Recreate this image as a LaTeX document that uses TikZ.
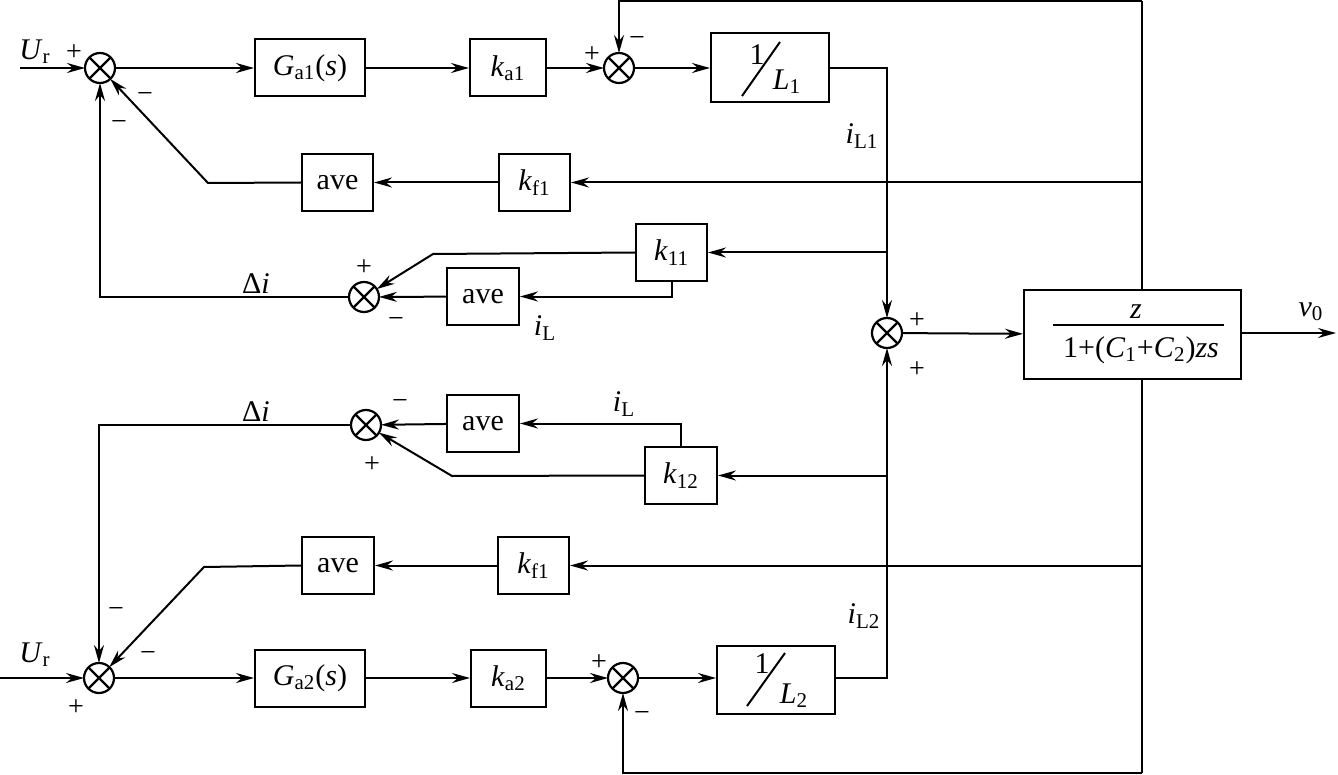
\documentclass[tikz,border=0pt]{standalone}
\usepackage{fontspec}
\setmainfont{Liberation Serif}
\usetikzlibrary{arrows.meta,calc}
\tikzset{
  lw/.style={line width=1pt},
  arr/.style={line width=1pt,-{Stealth[length=9pt,width=5pt,inset=3pt]}},
  blk/.style={draw,line width=1pt,inner sep=0pt,minimum height=28.5pt,font=\fontsize{15}{18}\selectfont},
  sumn/.style={draw,circle,line width=1.1pt,minimum size=15pt,inner sep=0pt,outer sep=0pt,
    path picture={\draw[line width=1.1pt] (path picture bounding box.south west)--(path picture bounding box.north east)
      (path picture bounding box.north west)--(path picture bounding box.south east);}},
  sgn/.style={font=\fontsize{14}{14}\selectfont,inner sep=0pt},
  lbl/.style={font=\fontsize{15}{18}\selectfont,inner sep=0pt},
}
\begin{document}
\begin{tikzpicture}[x=0.5pt,y=-0.5pt]
\useasboundingbox (0,0) rectangle (1338,775);
% ---------- top row
\node[sumn] (s1) at (100,68) {};
\node[blk,minimum width=55pt] (ga1) at (310,68) {\textit{G}\textsubscript{a1}(\textit{s})};
\node[blk,minimum width=38pt] (ka1) at (508,68) {\textit{k}\textsubscript{a1}};
\node[sumn] (s2) at (619,68) {};
\node[blk,minimum width=59pt,minimum height=34.5pt] (L1) at (770,68) {};
\node[lbl] (L1n) at (757,55) {1};
\node[lbl] (L1d) at (787,82) {\textit{L}\textsubscript{1}};
\draw[lw] (742,96) -- (780,42);
% ---------- upper feedback
\node[blk,minimum width=35.5pt] (kf1t) at (534.5,182.5) {\textit{k}\textsubscript{f1}};
\node[blk,minimum width=35.5pt] (avet) at (337.5,182.5) {ave};
\node[blk,minimum width=35.5pt] (k11) at (671.5,252.5) {\textit{k}\textsubscript{11}};
\node[blk,minimum width=36pt] (ave1) at (483,296.5) {ave};
\node[sumn] (s4) at (364,297) {};
% ---------- middle
\node[sumn] (s3) at (887,333) {};
\node[blk,minimum width=108.5pt,minimum height=44.5pt] (out) at (1132.5,334.5) {};
\node[lbl] (num) at (1136,312) {\textit{z}};
\node[lbl] (den) at (1141,350) {1+(\textit{C}\textsubscript{1}+\textit{C}\textsubscript{2})\textit{zs}};
\draw[lw] (1053,325) -- (1224,325);
% ---------- lower feedback
\node[sumn] (s5) at (366,425) {};
\node[blk,minimum width=36pt] (ave2) at (483,423.5) {ave};
\node[blk,minimum width=36pt] (k12) at (681,475.5) {\textit{k}\textsubscript{12}};
\node[blk,minimum width=36pt] (aveb) at (338,565.5) {ave};
\node[blk,minimum width=35.5pt] (kf1b) at (533.5,565.5) {\textit{k}\textsubscript{f1}};
% ---------- bottom row
\node[sumn] (s6) at (99,678) {};
\node[blk,minimum width=55pt] (ga2) at (310,678) {\textit{G}\textsubscript{a2}(\textit{s})};
\node[blk,minimum width=37.5pt] (ka2) at (508.5,678) {\textit{k}\textsubscript{a2}};
\node[sumn] (s7) at (623,678) {};
\node[blk,minimum width=59pt,minimum height=34pt] (L2) at (776,680) {};
\node[lbl] (L2n) at (762,664) {1};
\node[lbl] (L2d) at (794,696) {\textit{L}\textsubscript{2}};
\draw[lw] (747,706) -- (785,653);
% ---------- coordinates
\coordinate (ur1) at (20,68);
\coordinate (ur2) at (0,678);
\coordinate (tr) at (1142,1);
\coordinate (br) at (1142,773);
\coordinate (vout) at (1336,333);
\coordinate (c1) at (208,183);
\coordinate (c2) at (433,254);
\coordinate (c3) at (452,476);
\coordinate (c4) at (204,567);
% ---------- connectors top
\draw[arr] (ur1) -- (s1);
\draw[arr] (s1) -- (ga1);
\draw[arr] (ga1) -- (ka1);
\draw[arr] (ka1) -- (s2);
\draw[arr] (s2) -- (L1);
\draw[arr] (L1.east) -| (s3.north);
\draw[arr] (L2.east |- s7) -| (s3.south);
\draw[arr] (s3) -- (out);
\draw[arr] (out.east |- s3) -- (vout);
\draw[lw] (tr) -- (tr |- out.north);
\draw[lw] (br) -- (br |- out.south);
\draw[arr] (tr) -| (s2.north);
\draw[arr] (br) -| (s7.south);
% upper feedback
\draw[arr] (tr |- kf1t.east) -- (kf1t.east);
\draw[arr] (kf1t) -- (avet);
\draw[arr] (avet.west) -- (c1) -- (s1);
\draw[arr] (s4.west) -| (s1.south);
\draw[arr] (s3 |- k11.east) -- (k11.east);
\draw[arr] (k11.west) -- (c2) -- (s4);
\draw[arr] (k11.south) |- (ave1.east);
\draw[arr] (ave1) -- (s4);
% lower feedback
\draw[arr] (s3 |- k12.east) -- (k12.east);
\draw[arr] (k12.north) |- (ave2.east);
\draw[arr] (ave2) -- (s5);
\draw[arr] (k12.west) -- (c3) -- (s5);
\draw[arr] (s5.west) -| (s6.north);
\draw[arr] (br |- kf1b.east) -- (kf1b.east);
\draw[arr] (kf1b) -- (aveb);
\draw[arr] (aveb.west) -- (c4) -- (s6);
% bottom row
\draw[arr] (ur2) -- (s6);
\draw[arr] (s6) -- (ga2);
\draw[arr] (ga2) -- (ka2);
\draw[arr] (ka2) -- (s7);
\draw[arr] (s7) -- (L2.west |- s7);
% ---------- labels
\node[lbl] (lur1) at (35,52) {\textit{U}\textsubscript{r}};
\node[lbl] (lur2) at (35,655) {\textit{U}\textsubscript{r}};
\node[lbl] (liL1) at (862,136) {\textit{i}\textsubscript{L1}};
\node[lbl] (liL2) at (864,616) {\textit{i}\textsubscript{L2}};
\node[lbl] (ldi1) at (256,284) {Δ\textit{i}};
\node[lbl] (ldi2) at (256,412) {Δ\textit{i}};
\node[lbl] (liLa) at (545,328) {\textit{i}\textsubscript{L}};
\node[lbl] (liLb) at (624,404) {\textit{i}\textsubscript{L}};
\node[lbl] (lv0) at (1311,312) {\textit{v}\textsubscript{0}};
\node[sgn] at (74,53) {+};
\node[sgn] at (145,98) {−};
\node[sgn] at (119,126) {−};
\node[sgn] at (592,55) {+};
\node[sgn] at (637,42) {−};
\node[sgn] at (364,268) {+};
\node[sgn] at (396,323) {−};
\node[sgn] at (917,321) {+};
\node[sgn] at (917,370) {+};
\node[sgn] at (400,405) {−};
\node[sgn] at (372,465) {+};
\node[sgn] at (116,612) {−};
\node[sgn] at (148,656) {−};
\node[sgn] at (76,708) {+};
\node[sgn] at (599,663) {+};
\node[sgn] at (642,716) {−};
\end{tikzpicture}
\end{document}
